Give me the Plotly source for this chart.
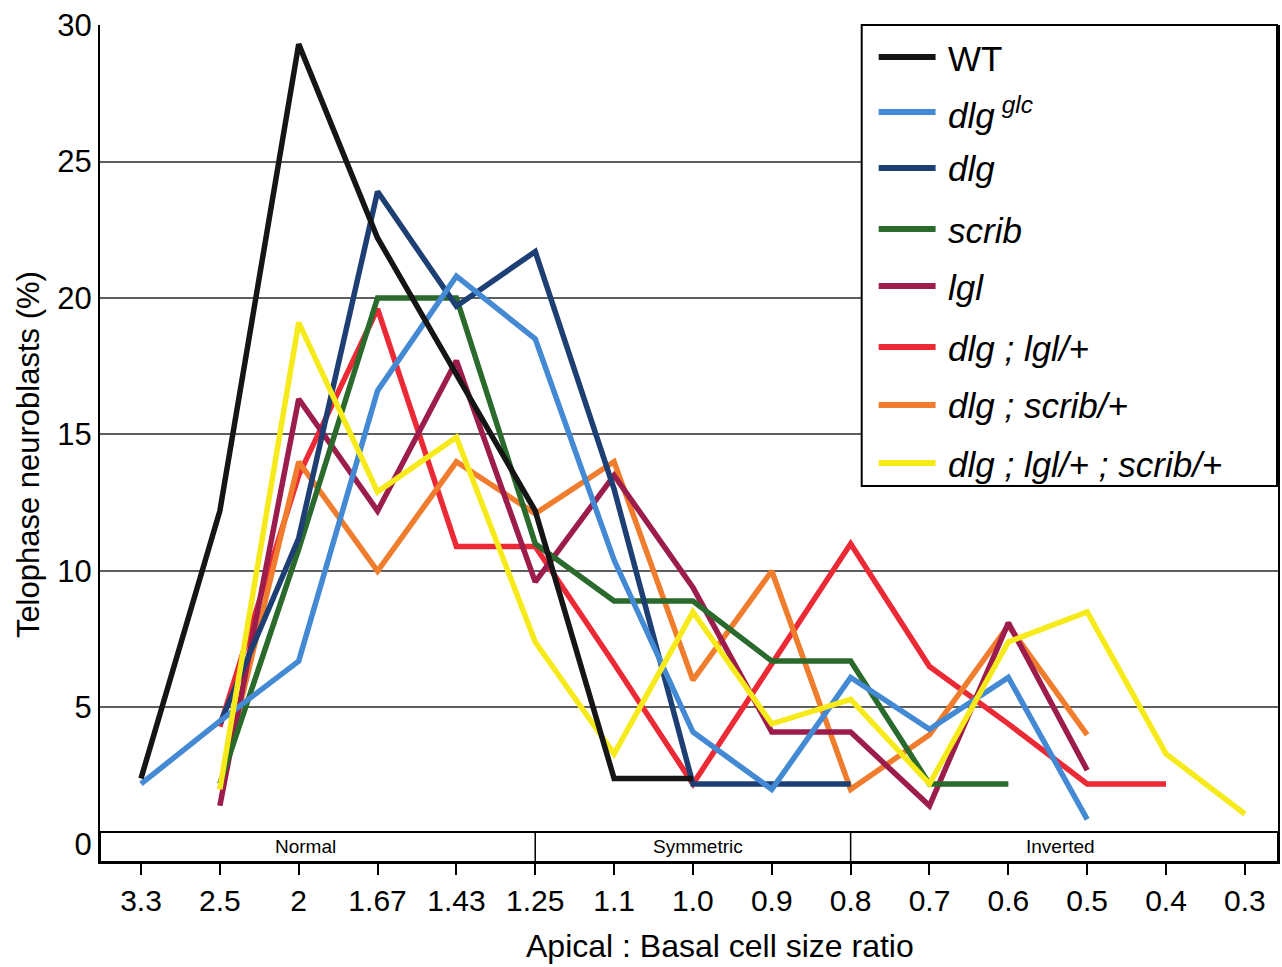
import plotly.graph_objects as go

categories = ["3.3", "2.5", "2", "1.67", "1.43", "1.25", "1.1", "1.0",
              "0.9", "0.8", "0.7", "0.6", "0.5", "0.4", "0.3"]

wt        = [2.4, 12.2, 29.3, 22.2, 17.2, 12.2, 2.4, 2.4, None, None, None, None, None, None, None]
dlg_glc   = [2.2, 4.5, 6.7, 16.6, 20.8, 18.5, 10.4, 4.1, 2.0, 6.1, 4.2, 6.1, 0.9, None, None]
dlg       = [None, 4.4, 11.2, 23.9, 19.7, 21.7, 13.0, 2.2, 2.2, 2.2, None, None, None, None, None]
scrib     = [None, 2.2, 10.8, 20.0, 20.0, 11.0, 8.9, 8.9, 6.7, 6.7, 2.2, 2.2, None, None, None]
lgl       = [None, 1.4, 16.3, 12.2, 17.7, 9.6, 13.5, 9.4, 4.1, 4.1, 1.4, 8.1, 2.7, None, None]
dlg_lgl   = [None, 4.3, 13.5, 19.6, 10.9, 10.9, 6.6, 2.2, 6.6, 11.0, 6.5, 4.4, 2.2, 2.2, None]
dlg_scrib = [None, 2.0, 14.0, 10.0, 14.0, 12.1, 14.0, 6.0, 10.0, 2.0, 4.0, 8.0, 4.0, None, None]
dlg_lgl_scrib = [None, 2.0, 19.1, 12.9, 14.9, 7.4, 3.3, 8.5, 4.4, 5.3, 2.2, 7.4, 8.5, 3.3, 1.1]

series_names = ["WT", "<i>dlg\u2009<sup>glc</sup></i>", "<i>dlg</i>", "<i>scrib</i>", "<i>lgl</i>",
                "<i>dlg ; lgl/+</i>", "<i>dlg ; scrib/+</i>", "<i>dlg ; lgl/+ ; scrib/+</i>"]
series_values = [wt, dlg_glc, dlg, scrib, lgl, dlg_lgl, dlg_scrib, dlg_lgl_scrib]
series_colors = ["#151515", "#4389d3", "#1d3f74", "#2b6a2d", "#9c1c4c",
                 "#ec2a36", "#f07c2e", "#f6ea1a"]

zones = ["Normal", "Symmetric", "Inverted"]
zone_centers = [2.08, 7.07, 11.66]
zone_bounds = [5, 9]
y_ticks = [0, 5, 10, 15, 20, 25, 30]

FONT = "Liberation Sans, Arial, Helvetica, sans-serif"

fig = go.Figure()

draw_order = [5, 6, 4, 3, 2, 1, 7, 0]
for k in draw_order:
    fig.add_trace(go.Scatter(
        x=categories, y=series_values[k], name=series_names[k],
        mode="lines", line=dict(color=series_colors[k], width=5.5),
        connectgaps=False, showlegend=False))

shapes = []
annotations = []

# category band at the bottom
Y_MIN, BAND_TOP = -0.66, 0.44
shapes.append(dict(type="rect", xref="paper", yref="y", x0=0, x1=1, y0=Y_MIN, y1=BAND_TOP,
                   fillcolor="white", line=dict(color="black", width=2), layer="above"))
for b in zone_bounds:
    shapes.append(dict(type="line", xref="x", yref="y", x0=b, x1=b, y0=Y_MIN, y1=BAND_TOP,
                       line=dict(color="black", width=1.5), layer="above"))
for name, cx in zip(zones, zone_centers):
    annotations.append(dict(text=name, x=cx, y=(Y_MIN + BAND_TOP) / 2, xref="x", yref="y",
                            showarrow=False, xanchor="center", yanchor="middle",
                            font=dict(size=19, color="black", family=FONT)))

# manual legend
PW, PH, PL, PB = 1180.0, 837.0, 100.0, 862.0
def px(xp):
    return (xp - PL) / PW
def py(yp):
    return (PB - yp) / PH

shapes.append(dict(type="rect", xref="paper", yref="paper", x0=px(863), x1=px(1279),
                   y0=py(486), y1=py(25), fillcolor="white",
                   line=dict(color="black", width=2), layer="above"))
legend_y = [57, 112, 168, 229, 286, 347, 405, 463]
for name, col, yc in zip(series_names, series_colors, legend_y):
    shapes.append(dict(type="line", xref="paper", yref="paper", x0=px(880), x1=px(937),
                       y0=py(yc), y1=py(yc), line=dict(color=col, width=6), layer="above"))
    annotations.append(dict(text=name, x=px(947), y=py(yc + 1), xref="paper", yref="paper",
                            showarrow=False, xanchor="left", yanchor="middle",
                            font=dict(size=35, color="black", family=FONT)))

# axis titles
annotations.append(dict(text="Telophase neuroblasts (%)", x=px(28), y=py(455),
                        xref="paper", yref="paper", showarrow=False, textangle=-90,
                        xanchor="center", yanchor="middle",
                        font=dict(size=31, color="black", family=FONT)))
annotations.append(dict(text="Apical : Basal cell size ratio", x=px(721), y=py(946),
                        xref="paper", yref="paper", showarrow=False,
                        xanchor="center", yanchor="middle",
                        font=dict(size=32, color="black", family=FONT)))

fig.update_layout(
    width=1282, height=967,
    margin=dict(l=100, r=2, t=25, b=105),
    paper_bgcolor="white", plot_bgcolor="white",
    showlegend=False,
    font=dict(family=FONT, color="black"),
    shapes=shapes, annotations=annotations,
    xaxis=dict(type="category", categoryorder="array", categoryarray=categories,
               range=[-0.52, 14.42], showgrid=False, zeroline=False,
               showline=True, linecolor="black", linewidth=2,
               ticks="outside", ticklen=11, tickwidth=1.5, tickcolor="black",
               tickfont=dict(size=30, color="black", family=FONT)),
    yaxis=dict(range=[Y_MIN, 30], tickvals=y_ticks, showgrid=True,
               gridcolor="#5e5e5e", gridwidth=1.5, zeroline=False,
               showline=True, linecolor="black", linewidth=2, mirror=True,
               ticks="", tickfont=dict(size=31, color="black", family=FONT)),
)

fig.write_html("out.html", config={"displayModeBar": False},
               post_script="document.body.style.margin='0';")
